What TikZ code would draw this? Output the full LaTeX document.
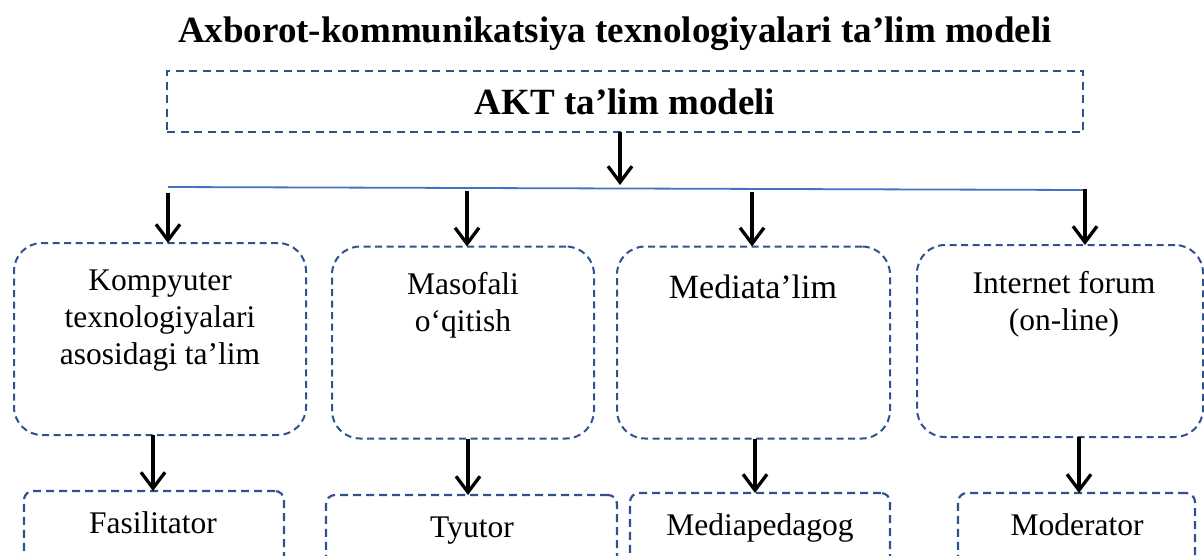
\documentclass[tikz,border=0pt]{standalone}
\usepackage{fontspec}
\setmainfont{Liberation Serif}
\usetikzlibrary{arrows.meta}
\definecolor{dblue}{RGB}{47,82,143}
\definecolor{lblue}{RGB}{68,114,196}
\begin{document}
\begin{tikzpicture}[x=1pt,y=-1pt,
  topbox/.style={draw=dblue, line width=2.4pt, dash pattern=on 8pt off 5.5pt, inner sep=0pt, outer sep=0pt, minimum width=916pt, minimum height=61pt, font=\bfseries\fontsize{37}{40}\selectfont},
  midbox/.style={draw=dblue, line width=2pt, dash pattern=on 7pt off 4.5pt, rounded corners=28pt, inner sep=0pt, outer sep=0pt, minimum height=192pt},
  lowbox/.style={draw=dblue, line width=2.2pt, dash pattern=on 8pt off 5pt, rounded corners=9pt, inner sep=0pt, outer sep=0pt, minimum height=110pt},
  midtxt/.style={font=\fontsize{31.5}{37}\selectfont, align=center, inner sep=0pt, anchor=north},
  lowtxt/.style={font=\fontsize{31.5}{37}\selectfont, inner sep=0pt, anchor=base},
  arr/.style={-{Straight Barb[length=16pt,width=24pt]}, line width=3.3pt, black},
  hline/.style={draw=lblue, line width=1.8pt}]
\useasboundingbox (0,0) rectangle (1204,555);
\clip (0,0) rectangle (1204,555);

\node[font=\bfseries\fontsize{37}{40}\selectfont, anchor=base, inner sep=0pt] (title) at (615,42) {Axborot-kommunikatsiya texnologiyalari ta’lim modeli};

\node[topbox] (akt) at (625,101.5) {AKT ta’lim modeli};

% horizontal distribution line
\coordinate (L) at (168,187);
\coordinate (R) at (1084,190);
\draw[hline] (L) -- (R);

% second row boxes
\node[midbox, minimum width=292pt] (b1) at (160,339) {};
\node[midbox, minimum width=262pt] (b2) at (463,342.5) {};
\node[midbox, minimum width=273pt] (b3) at (753.5,342.5) {};
\node[midbox, minimum width=286pt] (b4) at (1060,341) {};

\node[midtxt] (t1) at (160,270) {Kompyuter\\texnologiyalari\\asosidagi ta’lim};
\node[midtxt] (t2) at (463,272) {Masofali\\o‘qitish};
\node[font=\fontsize{34}{40}\selectfont, inner sep=0pt, anchor=base] (t3) at (753,298) {Mediata’lim};
\node[midtxt] (t4) at (1064,271) {Internet forum\\(on-line)};

% third row boxes
\node[lowbox, minimum width=260pt, anchor=north] (c1) at (154,491) {};
\node[lowbox, minimum width=291pt, anchor=north] (c2) at (471.5,495) {};
\node[lowbox, minimum width=260pt, anchor=north] (c3) at (760,493) {};
\node[lowbox, minimum width=237pt, anchor=north] (c4) at (1076.5,493) {};

\node[lowtxt] (u1) at (153,533) {Fasilitator};
\node[lowtxt] (u2) at (472,537) {Tyutor};
\node[lowtxt] (u3) at (760,535) {Mediapedagog};
\node[lowtxt] (u4) at (1077,535) {Moderator};

% arrows
\coordinate (s0) at (620,185);
\draw[arr] (akt.south -| s0) -- (s0);

\coordinate (s1) at (168,193);
\coordinate (s2) at (467,191);
\coordinate (s3) at (752,192);
\coordinate (s4) at (1085,189);
\draw[arr] (s1) -- (s1 |- b1.north);
\draw[arr] (s2) -- (s2 |- b2.north);
\draw[arr] (s3) -- (s3 |- b3.north);
\draw[arr] (s4) -- (s4 |- b4.north);

\coordinate (d1) at (153,460);
\coordinate (d2) at (468,460);
\coordinate (d3) at (755,460);
\coordinate (d4) at (1079,460);
\draw[arr] (b1.south -| d1) -- (d1 |- c1.north);
\draw[arr] (b2.south -| d2) -- (d2 |- c2.north);
\draw[arr] (b3.south -| d3) -- (d3 |- c3.north);
\draw[arr] (b4.south -| d4) -- (d4 |- c4.north);
\end{tikzpicture}
\end{document}
